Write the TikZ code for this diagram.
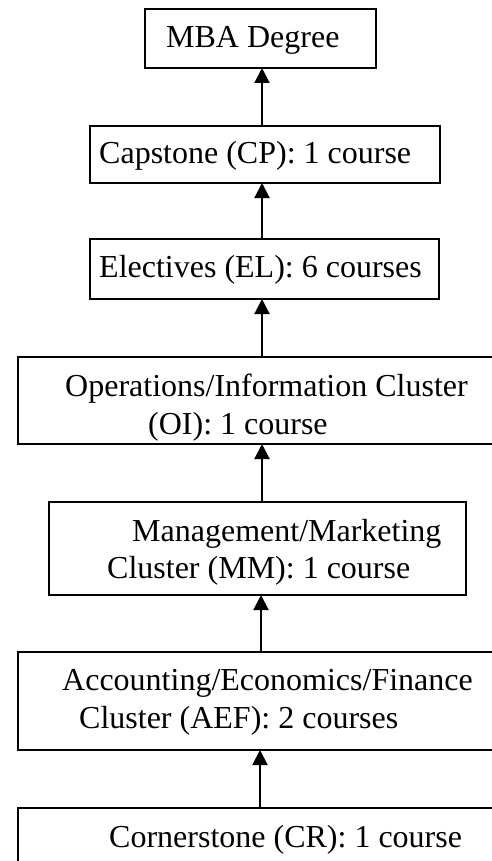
\documentclass[tikz,border=0pt]{standalone}
\usepackage{fontspec}
\setmainfont{Liberation Serif}
\usetikzlibrary{arrows.meta}
\tikzset{
  box/.style={draw, line width=2pt, inner sep=0pt, outer sep=0pt},
  lbl/.style={anchor=base west, inner sep=0pt, font=\fontsize{32}{38}\selectfont},
  arr/.style={line width=2pt, -{Triangle[width=15pt,length=15pt]}}
}
\begin{document}
\begin{tikzpicture}[x=1pt,y=-1pt]
\useasboundingbox (0,0) rectangle (492,861);
\clip (0,0) rectangle (492,861);
\node[box, minimum width=231pt, minimum height=59pt] (mba) at (260.5,38.5) {};
\node[box, minimum width=350pt, minimum height=57pt] (cp) at (265,154.5) {};
\node[box, minimum width=349pt, minimum height=60pt] (el) at (264.5,269) {};
\node[box, minimum width=482pt, minimum height=87pt] (oi) at (259,400.5) {};
\node[box, minimum width=417pt, minimum height=93pt] (mm) at (257.5,548.5) {};
\node[box, minimum width=482pt, minimum height=98pt] (aef) at (259,701) {};
\node[box, minimum width=482pt, minimum height=62pt] (cr) at (259,839) {};
\node[lbl] (t1) at (166,48) {MBA Degree};
\node[lbl] (t2) at (99,164) {Capstone (CP): 1 course};
\node[lbl] (t3) at (99,277) {Electives (EL): 6 courses};
\node[lbl] (t4a) at (65,396) {Operations/Information Cluster};
\node[lbl] (t4b) at (148,434) {(OI): 1 course};
\node[lbl] (t5a) at (132,541) {Management/Marketing};
\node[lbl] (t5b) at (107,578) {Cluster (MM): 1 course};
\node[lbl] (t6a) at (62,690) {Accounting/Economics/Finance};
\node[lbl] (t6b) at (79,728) {Cluster (AEF): 2 courses};
\node[lbl] (t7) at (109,847) {Cornerstone (CR): 1 course};
\coordinate (a1) at (262,0);
\coordinate (a2) at (262,0);
\coordinate (a3) at (262,0);
\coordinate (a4) at (262,0);
\coordinate (a5) at (261,0);
\coordinate (a6) at (260,0);
\draw[arr] (cp.north -| a1) -- (mba.south -| a1);
\draw[arr] (el.north -| a2) -- (cp.south -| a2);
\draw[arr] (oi.north -| a3) -- (el.south -| a3);
\draw[arr] (mm.north -| a4) -- (oi.south -| a4);
\draw[arr] (aef.north -| a5) -- (mm.south -| a5);
\draw[arr] (cr.north -| a6) -- (aef.south -| a6);
\end{tikzpicture}
\end{document}
